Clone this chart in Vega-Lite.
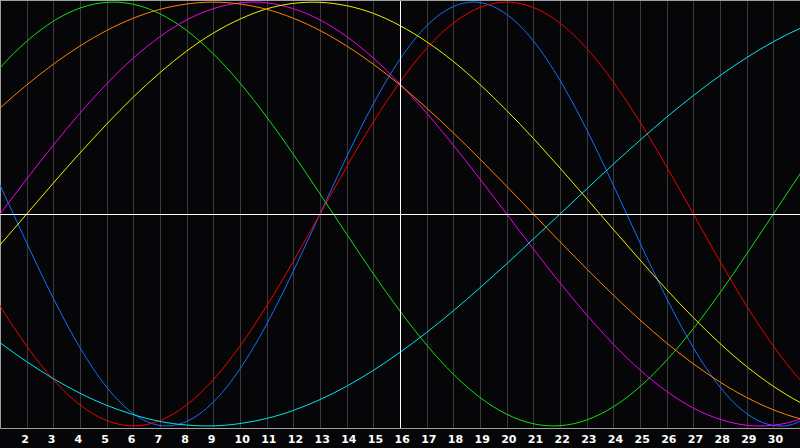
{
  "$schema": "https://vega.github.io/schema/vega-lite/v6.json",
  "width": 800,
  "height": 428,
  "autosize": "none",
  "padding": {"left": 0, "top": 0, "right": 0, "bottom": 20},
  "background": "#060608",
  "config": {"view": {"stroke": null}},
  "data": {"values": [
    {"day":0,"cycle":"physical","value":0.398},{"day":1,"cycle":"physical","value":0.136},{"day":2,"cycle":"physical","value":-0.136},{"day":3,"cycle":"physical","value":-0.398},{"day":4,"cycle":"physical","value":-0.631},{"day":5,"cycle":"physical","value":-0.817},{"day":6,"cycle":"physical","value":-0.942},{"day":7,"cycle":"physical","value":-0.998},{"day":8,"cycle":"physical","value":-0.979},{"day":9,"cycle":"physical","value":-0.888},{"day":10,"cycle":"physical","value":-0.731},{"day":11,"cycle":"physical","value":-0.520},{"day":12,"cycle":"physical","value":-0.270},{"day":13,"cycle":"physical","value":0},{"day":14,"cycle":"physical","value":0.270},{"day":15,"cycle":"physical","value":0.520},{"day":16,"cycle":"physical","value":0.731},{"day":17,"cycle":"physical","value":0.888},{"day":18,"cycle":"physical","value":0.979},{"day":19,"cycle":"physical","value":0.998},{"day":20,"cycle":"physical","value":0.942},{"day":21,"cycle":"physical","value":0.817},{"day":22,"cycle":"physical","value":0.631},{"day":23,"cycle":"physical","value":0.398},{"day":24,"cycle":"physical","value":0.136},{"day":25,"cycle":"physical","value":-0.136},{"day":26,"cycle":"physical","value":-0.398},{"day":27,"cycle":"physical","value":-0.631},{"day":28,"cycle":"physical","value":-0.817},{"day":29,"cycle":"physical","value":-0.942},{"day":30,"cycle":"physical","value":-0.998},{"day":31,"cycle":"physical","value":-0.979},{"day":32,"cycle":"physical","value":-0.888},
    {"day":0,"cycle":"emotional","value":-0.223},{"day":1,"cycle":"emotional","value":-0.434},{"day":2,"cycle":"emotional","value":-0.623},{"day":3,"cycle":"emotional","value":-0.782},{"day":4,"cycle":"emotional","value":-0.901},{"day":5,"cycle":"emotional","value":-0.975},{"day":6,"cycle":"emotional","value":-1},{"day":7,"cycle":"emotional","value":-0.975},{"day":8,"cycle":"emotional","value":-0.901},{"day":9,"cycle":"emotional","value":-0.782},{"day":10,"cycle":"emotional","value":-0.623},{"day":11,"cycle":"emotional","value":-0.434},{"day":12,"cycle":"emotional","value":-0.223},{"day":13,"cycle":"emotional","value":0},{"day":14,"cycle":"emotional","value":0.223},{"day":15,"cycle":"emotional","value":0.434},{"day":16,"cycle":"emotional","value":0.623},{"day":17,"cycle":"emotional","value":0.782},{"day":18,"cycle":"emotional","value":0.901},{"day":19,"cycle":"emotional","value":0.975},{"day":20,"cycle":"emotional","value":1},{"day":21,"cycle":"emotional","value":0.975},{"day":22,"cycle":"emotional","value":0.901},{"day":23,"cycle":"emotional","value":0.782},{"day":24,"cycle":"emotional","value":0.623},{"day":25,"cycle":"emotional","value":0.434},{"day":26,"cycle":"emotional","value":0.223},{"day":27,"cycle":"emotional","value":0},{"day":28,"cycle":"emotional","value":-0.223},{"day":29,"cycle":"emotional","value":-0.434},{"day":30,"cycle":"emotional","value":-0.623},{"day":31,"cycle":"emotional","value":-0.782},{"day":32,"cycle":"emotional","value":-0.901},
    {"day":0,"cycle":"intellectual","value":0.541},{"day":1,"cycle":"intellectual","value":0.690},{"day":2,"cycle":"intellectual","value":0.815},{"day":3,"cycle":"intellectual","value":0.910},{"day":4,"cycle":"intellectual","value":0.972},{"day":5,"cycle":"intellectual","value":0.999},{"day":6,"cycle":"intellectual","value":0.990},{"day":7,"cycle":"intellectual","value":0.945},{"day":8,"cycle":"intellectual","value":0.866},{"day":9,"cycle":"intellectual","value":0.756},{"day":10,"cycle":"intellectual","value":0.618},{"day":11,"cycle":"intellectual","value":0.458},{"day":12,"cycle":"intellectual","value":0.282},{"day":13,"cycle":"intellectual","value":0.095},{"day":14,"cycle":"intellectual","value":-0.095},{"day":15,"cycle":"intellectual","value":-0.282},{"day":16,"cycle":"intellectual","value":-0.458},{"day":17,"cycle":"intellectual","value":-0.618},{"day":18,"cycle":"intellectual","value":-0.756},{"day":19,"cycle":"intellectual","value":-0.866},{"day":20,"cycle":"intellectual","value":-0.945},{"day":21,"cycle":"intellectual","value":-0.990},{"day":22,"cycle":"intellectual","value":-0.999},{"day":23,"cycle":"intellectual","value":-0.972},{"day":24,"cycle":"intellectual","value":-0.910},{"day":25,"cycle":"intellectual","value":-0.815},{"day":26,"cycle":"intellectual","value":-0.690},{"day":27,"cycle":"intellectual","value":-0.541},{"day":28,"cycle":"intellectual","value":-0.372},{"day":29,"cycle":"intellectual","value":-0.189},{"day":30,"cycle":"intellectual","value":0},{"day":31,"cycle":"intellectual","value":0.189},{"day":32,"cycle":"intellectual","value":0.372},
    {"day":0,"cycle":"intuitive","value":-0.165},{"day":1,"cycle":"intuitive","value":0},{"day":2,"cycle":"intuitive","value":0.165},{"day":3,"cycle":"intuitive","value":0.325},{"day":4,"cycle":"intuitive","value":0.476},{"day":5,"cycle":"intuitive","value":0.614},{"day":6,"cycle":"intuitive","value":0.736},{"day":7,"cycle":"intuitive","value":0.837},{"day":8,"cycle":"intuitive","value":0.916},{"day":9,"cycle":"intuitive","value":0.969},{"day":10,"cycle":"intuitive","value":0.997},{"day":11,"cycle":"intuitive","value":0.997},{"day":12,"cycle":"intuitive","value":0.969},{"day":13,"cycle":"intuitive","value":0.916},{"day":14,"cycle":"intuitive","value":0.837},{"day":15,"cycle":"intuitive","value":0.736},{"day":16,"cycle":"intuitive","value":0.614},{"day":17,"cycle":"intuitive","value":0.476},{"day":18,"cycle":"intuitive","value":0.325},{"day":19,"cycle":"intuitive","value":0.165},{"day":20,"cycle":"intuitive","value":0},{"day":21,"cycle":"intuitive","value":-0.165},{"day":22,"cycle":"intuitive","value":-0.325},{"day":23,"cycle":"intuitive","value":-0.476},{"day":24,"cycle":"intuitive","value":-0.614},{"day":25,"cycle":"intuitive","value":-0.736},{"day":26,"cycle":"intuitive","value":-0.837},{"day":27,"cycle":"intuitive","value":-0.916},{"day":28,"cycle":"intuitive","value":-0.969},{"day":29,"cycle":"intuitive","value":-0.997},{"day":30,"cycle":"intuitive","value":-0.997},{"day":31,"cycle":"intuitive","value":-0.969},{"day":32,"cycle":"intuitive","value":-0.916},
    {"day":0,"cycle":"aesthetic","value":-0.288},{"day":1,"cycle":"aesthetic","value":-0.146},{"day":2,"cycle":"aesthetic","value":0},{"day":3,"cycle":"aesthetic","value":0.146},{"day":4,"cycle":"aesthetic","value":0.288},{"day":5,"cycle":"aesthetic","value":0.424},{"day":6,"cycle":"aesthetic","value":0.552},{"day":7,"cycle":"aesthetic","value":0.667},{"day":8,"cycle":"aesthetic","value":0.769},{"day":9,"cycle":"aesthetic","value":0.854},{"day":10,"cycle":"aesthetic","value":0.920},{"day":11,"cycle":"aesthetic","value":0.968},{"day":12,"cycle":"aesthetic","value":0.994},{"day":13,"cycle":"aesthetic","value":0.999},{"day":14,"cycle":"aesthetic","value":0.983},{"day":15,"cycle":"aesthetic","value":0.947},{"day":16,"cycle":"aesthetic","value":0.889},{"day":17,"cycle":"aesthetic","value":0.813},{"day":18,"cycle":"aesthetic","value":0.720},{"day":19,"cycle":"aesthetic","value":0.611},{"day":20,"cycle":"aesthetic","value":0.489},{"day":21,"cycle":"aesthetic","value":0.357},{"day":22,"cycle":"aesthetic","value":0.217},{"day":23,"cycle":"aesthetic","value":0.073},{"day":24,"cycle":"aesthetic","value":-0.073},{"day":25,"cycle":"aesthetic","value":-0.217},{"day":26,"cycle":"aesthetic","value":-0.357},{"day":27,"cycle":"aesthetic","value":-0.489},{"day":28,"cycle":"aesthetic","value":-0.611},{"day":29,"cycle":"aesthetic","value":-0.720},{"day":30,"cycle":"aesthetic","value":-0.813},{"day":31,"cycle":"aesthetic","value":-0.889},{"day":32,"cycle":"aesthetic","value":-0.947},
    {"day":0,"cycle":"awareness","value":0.383},{"day":1,"cycle":"awareness","value":0.5},{"day":2,"cycle":"awareness","value":0.609},{"day":3,"cycle":"awareness","value":0.707},{"day":4,"cycle":"awareness","value":0.793},{"day":5,"cycle":"awareness","value":0.866},{"day":6,"cycle":"awareness","value":0.924},{"day":7,"cycle":"awareness","value":0.966},{"day":8,"cycle":"awareness","value":0.991},{"day":9,"cycle":"awareness","value":1},{"day":10,"cycle":"awareness","value":0.991},{"day":11,"cycle":"awareness","value":0.966},{"day":12,"cycle":"awareness","value":0.924},{"day":13,"cycle":"awareness","value":0.866},{"day":14,"cycle":"awareness","value":0.793},{"day":15,"cycle":"awareness","value":0.707},{"day":16,"cycle":"awareness","value":0.609},{"day":17,"cycle":"awareness","value":0.5},{"day":18,"cycle":"awareness","value":0.383},{"day":19,"cycle":"awareness","value":0.259},{"day":20,"cycle":"awareness","value":0.131},{"day":21,"cycle":"awareness","value":0},{"day":22,"cycle":"awareness","value":-0.131},{"day":23,"cycle":"awareness","value":-0.259},{"day":24,"cycle":"awareness","value":-0.383},{"day":25,"cycle":"awareness","value":-0.5},{"day":26,"cycle":"awareness","value":-0.609},{"day":27,"cycle":"awareness","value":-0.707},{"day":28,"cycle":"awareness","value":-0.793},{"day":29,"cycle":"awareness","value":-0.866},{"day":30,"cycle":"awareness","value":-0.924},{"day":31,"cycle":"awareness","value":-0.966},{"day":32,"cycle":"awareness","value":-0.991},
    {"day":0,"cycle":"spiritual","value":-0.509},{"day":1,"cycle":"spiritual","value":-0.607},{"day":2,"cycle":"spiritual","value":-0.697},{"day":3,"cycle":"spiritual","value":-0.777},{"day":4,"cycle":"spiritual","value":-0.846},{"day":5,"cycle":"spiritual","value":-0.903},{"day":6,"cycle":"spiritual","value":-0.947},{"day":7,"cycle":"spiritual","value":-0.979},{"day":8,"cycle":"spiritual","value":-0.996},{"day":9,"cycle":"spiritual","value":-1},{"day":10,"cycle":"spiritual","value":-0.989},{"day":11,"cycle":"spiritual","value":-0.965},{"day":12,"cycle":"spiritual","value":-0.927},{"day":13,"cycle":"spiritual","value":-0.876},{"day":14,"cycle":"spiritual","value":-0.813},{"day":15,"cycle":"spiritual","value":-0.738},{"day":16,"cycle":"spiritual","value":-0.653},{"day":17,"cycle":"spiritual","value":-0.559},{"day":18,"cycle":"spiritual","value":-0.457},{"day":19,"cycle":"spiritual","value":-0.348},{"day":20,"cycle":"spiritual","value":-0.235},{"day":21,"cycle":"spiritual","value":-0.118},{"day":22,"cycle":"spiritual","value":0},{"day":23,"cycle":"spiritual","value":0.118},{"day":24,"cycle":"spiritual","value":0.235},{"day":25,"cycle":"spiritual","value":0.348},{"day":26,"cycle":"spiritual","value":0.457},{"day":27,"cycle":"spiritual","value":0.559},{"day":28,"cycle":"spiritual","value":0.653},{"day":29,"cycle":"spiritual","value":0.738},{"day":30,"cycle":"spiritual","value":0.813},{"day":31,"cycle":"spiritual","value":0.876},{"day":32,"cycle":"spiritual","value":0.927}
  ]},
  "encoding": {
    "x": {
      "field": "day", "type": "quantitative",
      "scale": {"domain": [1, 31], "nice": false, "zero": false},
      "axis": {
        "title": null, "values": [2,3,4,5,6,7,8,9,10,11,12,13,14,15,16,17,18,19,20,21,22,23,24,25,26,27,28,29,30],
        "ticks": false, "grid": true, "gridColor": "#3a3a3a", "gridOpacity": 1,
        "domainColor": "#a0a0a0", "labelColor": "#ffffff", "labelFont": "DejaVu Sans",
        "labelFontSize": 11, "labelFontWeight": "bold", "labelAlign": "left", "labelOffset": -6,
        "labelBaseline": "top", "labelPadding": 5, "labelFlush": false, "labelOverlap": false
      }
    },
    "y": {
      "field": "value", "type": "quantitative",
      "scale": {"domain": [-1.01, 1.01], "nice": false, "zero": false},
      "axis": {"title": null, "labels": false, "ticks": false, "grid": false, "domainColor": "#a0a0a0"}
    }
  },
  "layer": [
    {
      "mark": {"type": "line", "interpolate": "natural", "strokeWidth": 1, "clip": true},
      "encoding": {
        "color": {
          "field": "cycle", "type": "nominal", "legend": null,
          "scale": {
            "domain": ["physical", "emotional", "intellectual", "intuitive", "aesthetic", "awareness", "spiritual"],
            "range": ["#1070ff", "#f00000", "#10e010", "#f000f0", "#f0f000", "#ff8000", "#00e8e8"]
          }
        }
      }
    },
    {
      "mark": {"type": "rule", "color": "#ffffff", "strokeWidth": 1, "xOffset": 0.5},
      "encoding": {"x": {"datum": 16}, "y": null}
    },
    {
      "mark": {"type": "rule", "color": "#ffffff", "strokeWidth": 1, "yOffset": 0.5},
      "encoding": {"y": {"datum": 0}, "x": null}
    },
    {
      "mark": {"type": "rule", "color": "#a0a0a0", "strokeWidth": 1, "yOffset": 0.5},
      "encoding": {"y": {"datum": 1.01}, "x": null}
    }
  ]
}
